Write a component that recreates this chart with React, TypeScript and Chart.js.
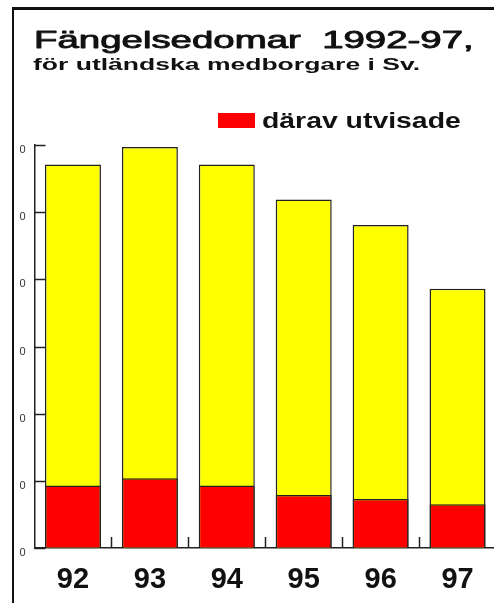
import React, { useEffect, useRef } from "react";
import { Chart, registerables } from "chart.js";

Chart.register(...registerables);

// ---- data ----
const categories = ["92", "93", "94", "95", "96", "97"];
const totalSentences = [2855, 2985, 2855, 2595, 2405, 1930];
const expelled = [465, 520, 465, 395, 365, 325];
const yTickValues = [0, 500, 1000, 1500, 2000, 2500, 3000];
const yTickLabels = ["0", "0", "0", "0", "0", "0", "0"]; // only last digit visible (cropped)

const titleText = "Fängelsedomar  1992-97,";
const subtitleText = "för utländska medborgare i Sv.";
const legendText = "därav utvisade";

const RED = "#ff0000";
const YELLOW = "#ffff00";
const EDGE = "#222222";

const headerPlugin = {
  id: "stretchedHeader",
  afterDraw(chart: any) {
    const ctx = chart.ctx;
    const drawStretched = (
      text: string,
      x: number,
      y: number,
      font: string,
      sx: number,
      stroke: number
    ) => {
      ctx.save();
      ctx.font = font;
      ctx.fillStyle = "#111";
      ctx.strokeStyle = "#111";
      ctx.textBaseline = "alphabetic";
      ctx.textAlign = "left";
      ctx.translate(x, y);
      ctx.scale(sx, 1);
      ctx.fillText(text, 0, 0);
      if (stroke > 0) {
        ctx.lineWidth = stroke;
        ctx.lineJoin = "round";
        ctx.strokeText(text, 0, 0);
      }
      ctx.restore();
    };
    drawStretched(titleText, 34, 48, "24px 'Liberation Sans', Arial, sans-serif", 1.6, 0.9);
    drawStretched(subtitleText, 33, 70, "bold 17px 'Liberation Sans', Arial, sans-serif", 1.56, 0);
    // legend
    ctx.save();
    ctx.fillStyle = RED;
    ctx.fillRect(218, 113, 37, 15);
    ctx.restore();
    drawStretched(legendText, 262, 128, "bold 22px 'Liberation Sans', Arial, sans-serif", 1.29, 0);
  },
};

const ticksPlugin = {
  id: "innerTicks",
  afterDatasetsDraw(chart: any) {
    const ctx = chart.ctx;
    const x = chart.scales.x;
    const y = chart.scales.y;
    ctx.save();
    ctx.strokeStyle = EDGE;
    ctx.lineWidth = 1.5;
    ctx.beginPath();
    // y ticks pointing inward
    yTickValues.forEach((v) => {
      const py = Math.round(y.getPixelForValue(v)) + 0.5;
      ctx.moveTo(x.left, py);
      ctx.lineTo(x.left + 11, py);
    });
    // x ticks between categories pointing up
    for (let i = 1; i < categories.length; i++) {
      const px = Math.round((x.getPixelForValue(i - 1) + x.getPixelForValue(i)) / 2) + 0.5;
      ctx.moveTo(px, y.bottom);
      ctx.lineTo(px, y.bottom - 11);
    }
    ctx.stroke();
    ctx.restore();
  },
};

export default function App() {
  const canvasRef = useRef<HTMLCanvasElement | null>(null);

  useEffect(() => {
    const canvas = canvasRef.current;
    if (!canvas) return;
    const chart = new Chart(canvas, {
      type: "bar",
      data: {
        labels: categories,
        datasets: [
          {
            label: legendText,
            data: expelled,
            backgroundColor: RED,
            borderColor: EDGE,
            borderWidth: 1.5,
            order: 0,
            grouped: false,
            categoryPercentage: 1,
            barPercentage: 0.728,
          },
          {
            label: "totalt",
            data: totalSentences,
            backgroundColor: YELLOW,
            borderColor: EDGE,
            borderWidth: 1.5,
            order: 1,
            grouped: false,
            categoryPercentage: 1,
            barPercentage: 0.728,
          },
        ],
      },
      options: {
        responsive: false,
        animation: false,
        devicePixelRatio: 1,
        layout: { padding: { top: 145, left: 0, right: 4, bottom: 0 } },
        plugins: {
          legend: { display: false },
          title: { display: false },
          tooltip: { enabled: false },
        },
        scales: {
          x: {
            afterFit: (scale: any) => {
              scale.height = 55;
            },
            grid: { display: true, drawOnChartArea: false, drawTicks: false },
            border: { display: true, color: EDGE, width: 1.5 },
            ticks: {
              color: "#111",
              padding: 15,
              maxRotation: 0,
              autoSkip: false,
              font: { family: "'Liberation Sans', Arial, sans-serif", size: 29, weight: "bold" },
            },
          },
          y: {
            min: 0,
            max: 3000,
            afterFit: (scale: any) => {
              scale.width = 34.5;
            },
            afterBuildTicks: (scale: any) => {
              scale.ticks = yTickValues.map((v) => ({ value: v }));
            },
            grid: { display: true, drawOnChartArea: false, drawTicks: false },
            border: { display: true, color: EDGE, width: 1.5 },
            ticks: {
              color: "#333",
              padding: 9,
              labelOffset: 5,
              font: { family: "'Liberation Sans', Arial, sans-serif", size: 11 },
              callback: (_v: any, i: number) => yTickLabels[i],
            },
          },
        },
      },
      plugins: [headerPlugin, ticksPlugin],
    });
    return () => chart.destroy();
  }, []);

  return (
    <div
      style={{
        position: "fixed",
        left: 0,
        top: 0,
        width: 494,
        height: 603,
        overflow: "hidden",
        background: "#fff",
      }}
    >
      <canvas
        ref={canvasRef}
        width={500}
        height={603}
        style={{ position: "absolute", left: 0, top: 0, width: 500, height: 603 }}
      />
      <div
        style={{
          position: "absolute",
          left: 12,
          top: 7,
          width: 700,
          height: 800,
          borderTop: "3px solid #111",
          borderLeft: "2px solid #111",
          pointerEvents: "none",
        }}
      />
    </div>
  );
}
